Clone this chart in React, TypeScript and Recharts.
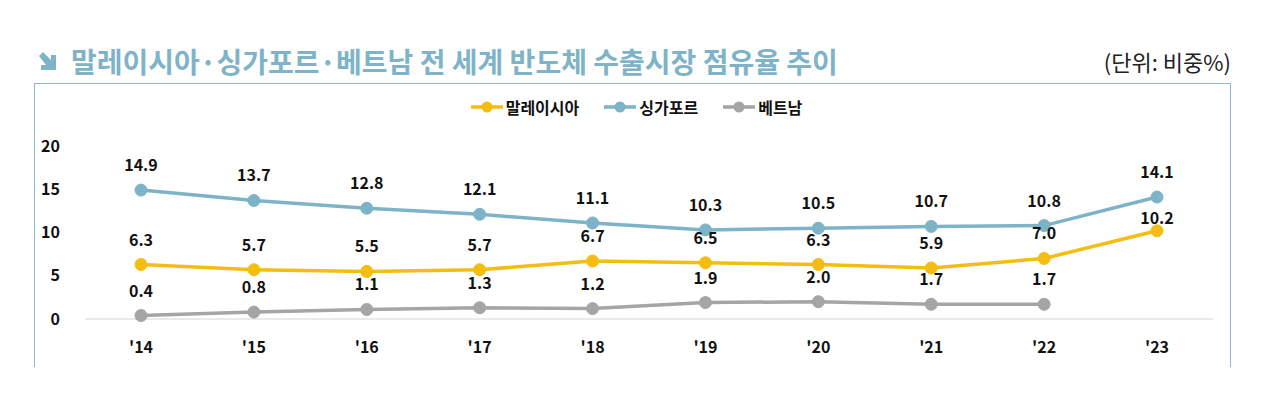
import React from "react";
import { LineChart, Line, XAxis, YAxis, LabelList } from "recharts";

const years = ["'14", "'15", "'16", "'17", "'18", "'19", "'20", "'21", "'22", "'23"];
const malaysia = [6.3, 5.7, 5.5, 5.7, 6.7, 6.5, 6.3, 5.9, 7.0, 10.2];
const singapore = [14.9, 13.7, 12.8, 12.1, 11.1, 10.3, 10.5, 10.7, 10.8, 14.1];
const vietnam: (number | null)[] = [0.4, 0.8, 1.1, 1.3, 1.2, 1.9, 2.0, 1.7, 1.7, null];
const yTicks = [0, 5, 10, 15, 20];
const seriesNames = ["말레이시아", "싱가포르", "베트남"];

const data = years.map((y, i) => ({
  year: y,
  my: malaysia[i],
  sg: singapore[i],
  vn: vietnam[i],
}));

const FONT = "'Noto Sans CJK KR', 'Noto Sans', sans-serif";
const C_MY = "#F5BD12";
const C_SG = "#7DB3C7";
const C_VN = "#A5A5A5";
const TITLE = "#7EB3C8";
const colors = [C_MY, C_SG, C_VN];

const makeLabel = (offsetFor: (i: number) => number) => (props: any) => {
  const { x, y, value, index } = props;
  if (value == null) return null;
  return (
    <text
      x={x}
      y={y - offsetFor(index)}
      textAnchor="middle"
      fontSize={16}
      fontWeight={700}
      fill="#111"
      fontFamily={FONT}
    >
      {Number(value).toFixed(1)}
    </text>
  );
};

const LegendBox = () => (
  <div
    style={{
      position: "absolute",
      left: 0,
      top: 95,
      width: 1272,
      display: "flex",
      justifyContent: "center",
      alignItems: "center",
      fontFamily: FONT,
    }}
  >
    {seriesNames.map((name, i) => (
      <div key={name} style={{ display: "flex", alignItems: "center", margin: "0 12px" }}>
        <svg width={34} height={14}>
          <line x1={1} y1={7} x2={33} y2={7} stroke={colors[i]} strokeWidth={3.5} />
          <circle cx={17} cy={7} r={5.5} fill={colors[i]} />
        </svg>
        <span style={{ fontSize: 16, fontWeight: 700, color: "#111", marginLeft: 2 }}>{name}</span>
      </div>
    ))}
  </div>
);

export default function App() {
  return (
    <div style={{ position: "absolute", left: 0, top: 0, width: 1272, height: 410, background: "#fff", fontFamily: FONT }}>
      <div style={{ position: "absolute", left: 36, top: 41, display: "flex", alignItems: "center" }}>
        <svg width={22} height={22} viewBox="0 0 22 22" style={{ marginRight: 13 }}>
          <path d="M3 6 L7 2 L15 10 L15 5 L20 5 L20 20 L5 20 L5 15 L10 15 Z" fill={TITLE} />
        </svg>
        <span style={{ fontSize: 28, fontWeight: 700, color: TITLE }}>
          말레이시아·싱가포르·베트남 전 세계 반도체 수출시장 점유율 추이
        </span>
      </div>
      <div style={{ position: "absolute", right: 41, top: 45, fontSize: 22, color: "#222" }}>(단위: 비중%)</div>
      <div
        style={{
          position: "absolute",
          left: 34,
          top: 83,
          width: 1197,
          height: 284,
          borderTop: "1.5px solid #8DBBCD",
          borderLeft: "1.5px solid #8DBBCD",
          borderRight: "1.5px solid #8DBBCD",
          boxSizing: "border-box",
        }}
      />
      <LegendBox />
      <div style={{ position: "absolute", left: 0, top: 0 }}>
        <LineChart width={1272} height={410} data={data} margin={{ top: 146, right: 59, bottom: 61, left: 25 }}>
          <XAxis
            dataKey="year"
            height={30}
            padding={{ left: 56, right: 56 }}
            axisLine={{ stroke: "#E3E3E3", strokeWidth: 1.5 }}
            tickLine={false}
            tickMargin={17}
            tick={{ fontSize: 16, fontWeight: 700, fill: "#111", fontFamily: FONT }}
            interval={0}
          />
          <YAxis
            width={60}
            domain={[0, 20]}
            ticks={yTicks}
            axisLine={false}
            tickLine={false}
            tickMargin={19}
            tick={{ fontSize: 16, fontWeight: 700, fill: "#111", fontFamily: FONT }}
          />
          <Line
            dataKey="my"
            name={seriesNames[0]}
            stroke={C_MY}
            strokeWidth={3.5}
            dot={{ r: 6, fill: C_MY, stroke: C_MY, strokeWidth: 1 }}
            activeDot={false}
            isAnimationActive={false}
          >
            <LabelList dataKey="my" content={makeLabel((i) => (i === 9 ? 7 : 19))} />
          </Line>
          <Line
            dataKey="sg"
            name={seriesNames[1]}
            stroke={C_SG}
            strokeWidth={3.5}
            dot={{ r: 6, fill: C_SG, stroke: C_SG, strokeWidth: 1 }}
            activeDot={false}
            isAnimationActive={false}
          >
            <LabelList dataKey="sg" content={makeLabel(() => 19)} />
          </Line>
          <Line
            dataKey="vn"
            name={seriesNames[2]}
            stroke={C_VN}
            strokeWidth={3.5}
            dot={{ r: 6, fill: C_VN, stroke: C_VN, strokeWidth: 1 }}
            activeDot={false}
            isAnimationActive={false}
          >
            <LabelList dataKey="vn" content={makeLabel(() => 19)} />
          </Line>
        </LineChart>
      </div>
    </div>
  );
}
